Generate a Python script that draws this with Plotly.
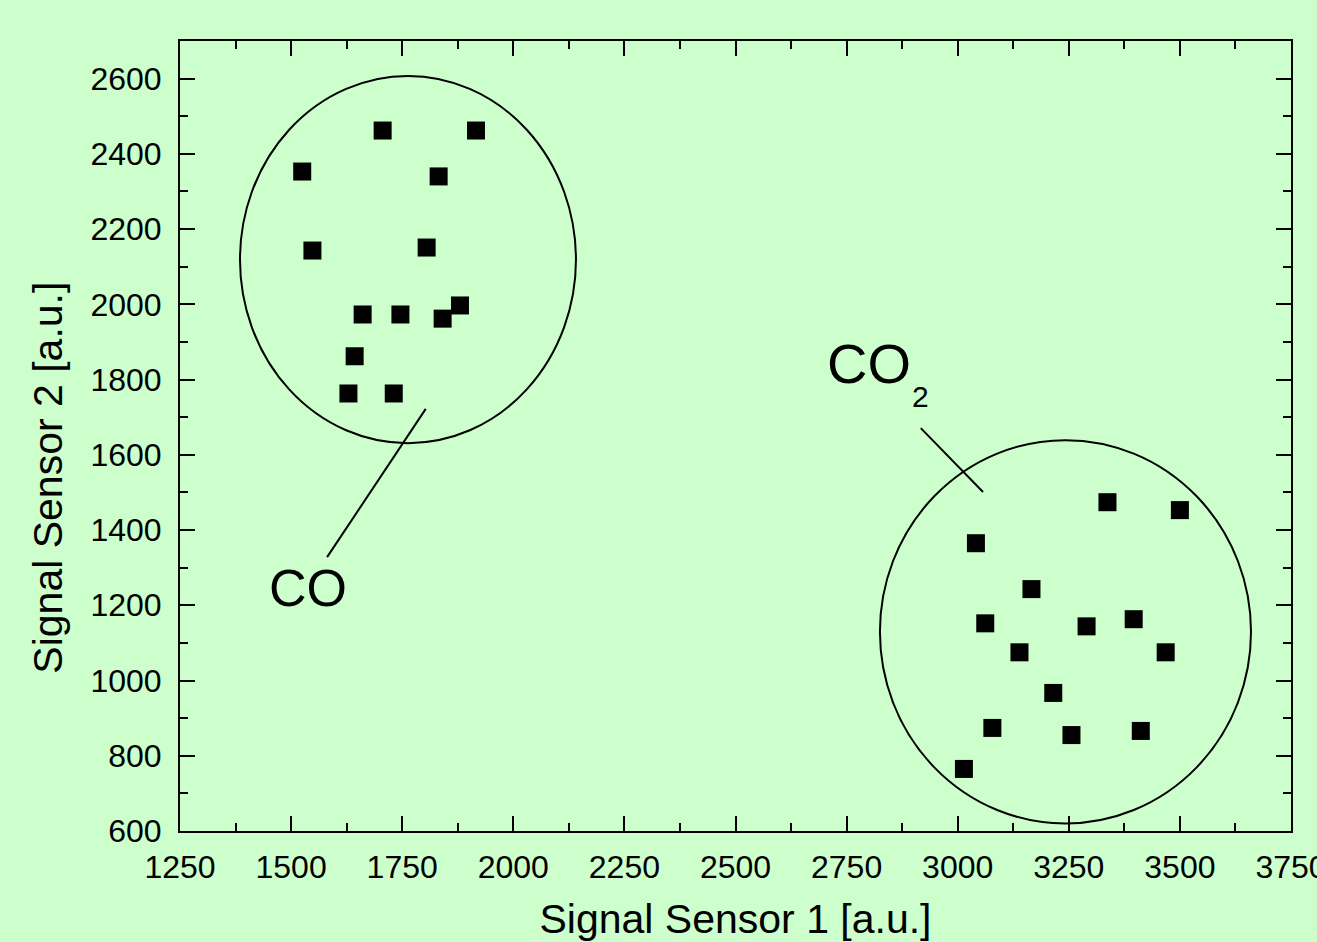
import plotly.graph_objects as go

# CO cluster (Signal Sensor 1, Signal Sensor 2)
co_x = [1525, 1706, 1916, 1832, 1548, 1805, 1661, 1746, 1841, 1880, 1643, 1629, 1731]
co_y = [2353, 2462, 2462, 2340, 2143, 2151, 1973, 1973, 1962, 1997, 1862, 1763, 1763]

# CO2 cluster
co2_x = [3041, 3337, 3500, 3166, 3062, 3290, 3396, 3139, 3468, 3215, 3078, 3256, 3412, 3014]
co2_y = [1365, 1474, 1453, 1243, 1152, 1144, 1163, 1075, 1075, 967, 874, 855, 866, 765]

# cluster ellipses (x0, x1, y0, y1)
co_ellipse = [1385, 2141, 1631, 2607]
co2_ellipse = [2825, 3660, 620, 1639]

# leader lines (x0, y0, x1, y1)
co_leader = [1803, 1722, 1581, 1328]
co2_leader = [2917, 1671, 3057, 1501]

FONT = "Liberation Sans, Arial, sans-serif"
BG = "#CCFFCC"

fig = go.Figure()
fig.add_trace(go.Scatter(x=co_x, y=co_y, mode="markers", name="CO",
                         marker=dict(symbol="square", size=18, color="black")))
fig.add_trace(go.Scatter(x=co2_x, y=co2_y, mode="markers", name="CO2",
                         marker=dict(symbol="square", size=18, color="black")))

for e in (co_ellipse, co2_ellipse):
    fig.add_shape(type="circle", xref="x", yref="y", x0=e[0], x1=e[1], y0=e[2], y1=e[3],
                  line=dict(color="black", width=2))
for l in (co_leader, co2_leader):
    fig.add_shape(type="line", xref="x", yref="y", x0=l[0], y0=l[1], x1=l[2], y1=l[3],
                  line=dict(color="black", width=2))

fig.add_annotation(x=1538, y=1246, text="CO", showarrow=False, xref="x", yref="y",
                   font=dict(family=FONT, size=52, color="black"))
fig.add_annotation(x=2800, y=1844, text="CO", showarrow=False, xref="x", yref="y",
                   font=dict(family=FONT, size=56, color="black"))
fig.add_annotation(x=2917, y=1756, text="2", showarrow=False, xref="x", yref="y",
                   font=dict(family=FONT, size=30, color="black"))

# y-axis title (placed as annotation to match its off-centre position)
fig.add_annotation(x=-0.119, y=0.447, xref="paper", yref="paper", text="Signal Sensor 2 [a.u.]",
                   textangle=-90, showarrow=False, xanchor="center", yanchor="middle",
                   font=dict(family=FONT, size=41, color="black"))

axis_common = dict(showline=True, linecolor="black", linewidth=2, mirror="ticks",
                   ticks="inside", ticklen=15, tickwidth=2, tickcolor="black",
                   showgrid=False, zeroline=False, ticklabeloverflow="allow",
                   automargin=False,
                   tickfont=dict(family=FONT, size=32, color="black"))

fig.update_xaxes(range=[1250, 3750], dtick=250, tick0=1250,
                 minor=dict(ticks="inside", ticklen=8, tickwidth=2, dtick=125, tickcolor="black"),
                 title=dict(text="Signal Sensor 1 [a.u.]", font=dict(family=FONT, size=41, color="black"),
                            standoff=25),
                 ticklabelstandoff=7, **axis_common)
fig.update_yaxes(range=[600, 2700], dtick=200, tick0=600,
                 minor=dict(ticks="inside", ticklen=8, tickwidth=2, dtick=100, tickcolor="black"),
                 ticklabelstandoff=10, **axis_common)

fig.update_layout(width=1317, height=942, showlegend=False, autosize=False,
                  paper_bgcolor=BG, plot_bgcolor=BG,
                  margin=dict(l=180, r=26, t=41, b=111, autoexpand=False),
                  font=dict(family=FONT, color="black"))

fig.write_html("out.html", config={"displayModeBar": False},
               post_script="document.body.style.margin='0';document.body.style.background='#CCFFCC';")
